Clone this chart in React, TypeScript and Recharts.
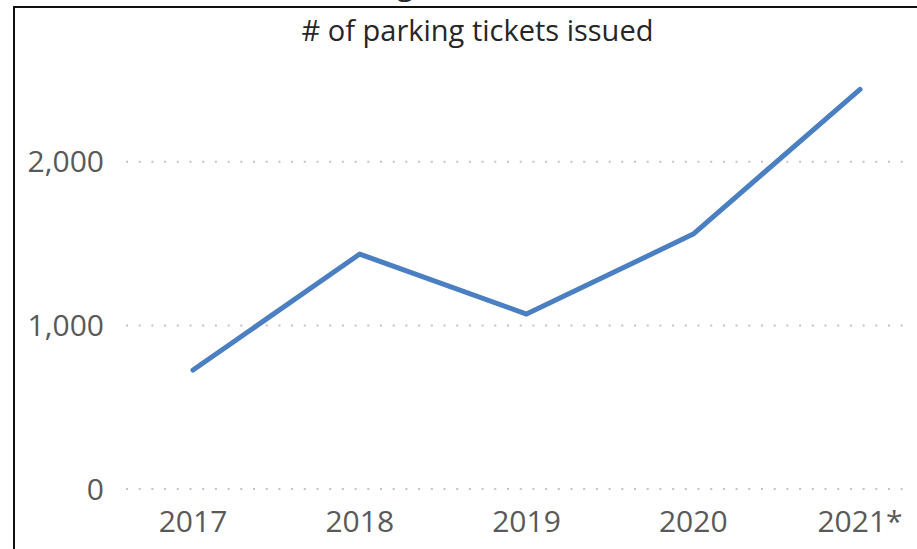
import { LineChart, Line, ReferenceLine, XAxis, YAxis } from "recharts";

const years = ["2017", "2018", "2019", "2020", "2021*"];
const tickets = [727, 1436, 1069, 1558, 2443];
const yTicks = [0, 1000, 2000];

const data = years.map((year, i) => ({ year, tickets: tickets[i] }));

const font = "'Open Sans', 'Noto Sans', sans-serif";
const tickStyle = { fill: "#595959", fontSize: 30, fontFamily: font };

export default function App() {
  return (
    <div
      style={{
        position: "absolute",
        left: 0,
        top: 0,
        width: 917,
        height: 549,
        overflow: "hidden",
        background: "#fff",
      }}
    >
      {/* descender of the cut-off heading above the frame */}
      <div
        style={{
          position: "absolute",
          left: 397,
          top: -36,
          fontFamily: font,
          fontSize: 30,
          lineHeight: "40px",
          color: "#262626",
        }}
      >
        g
      </div>
      <div
        style={{
          position: "absolute",
          left: 13,
          top: 6,
          width: 917,
          height: 600,
          borderTop: "2px solid #111",
          borderLeft: "2px solid #111",
        }}
      />
      <div
        style={{
          position: "absolute",
          left: 0,
          top: 11,
          width: 955,
          textAlign: "center",
          fontFamily: font,
          fontSize: 29,
          lineHeight: "38px",
          color: "#262626",
        }}
      >
        # of parking tickets issued
      </div>
      <LineChart
        width={917}
        height={549}
        data={data}
        margin={{ top: 80, right: 9, left: 0, bottom: 0 }}
        style={{ position: "absolute", left: 0, top: 0 }}
      >
        <XAxis
          dataKey="year"
          axisLine={false}
          tickLine={false}
          tickSize={0}
          tickMargin={22}
          height={60}
          padding={{ left: 67, right: 48 }}
          tick={tickStyle}
          interval={0}
        />
        <YAxis
          domain={[0, 2500]}
          ticks={yTicks}
          axisLine={false}
          tickLine={false}
          tickSize={0}
          tickMargin={22}
          width={126}
          tick={tickStyle}
          tickFormatter={(v: number) => v.toLocaleString("en-US")}
        />
        {yTicks.map((t) => (
          <ReferenceLine
            key={t}
            y={t}
            stroke="#c4c4c4"
            strokeWidth={2}
            strokeDasharray="2 10.7"
          />
        ))}
        <Line
          type="linear"
          dataKey="tickets"
          stroke="#4a7fc1"
          strokeWidth={5}
          strokeLinecap="round"
          strokeLinejoin="round"
          dot={false}
          activeDot={false}
          isAnimationActive={false}
        />
      </LineChart>
    </div>
  );
}
